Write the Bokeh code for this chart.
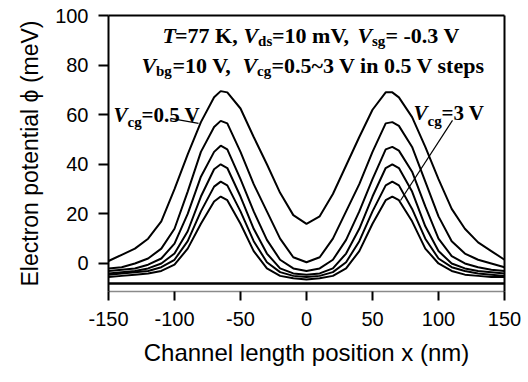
from bokeh.plotting import figure
from bokeh.models import Range1d, LinearAxis, Span, Label, FixedTicker
from bokeh.embed import file_html
from bokeh.resources import INLINE

# Channel position (nm)
x_nm = [-150, -140, -130, -120, -110, -100, -90, -80, -70, -65, -60, -50, -40, -30, -20, -10, 0,
        10, 20, 30, 40, 50, 60, 65, 70, 80, 90, 100, 110, 120, 130, 140, 150]

# Electron potential (meV) for Vcg = 0.5 ... 3.0 V
phi_vcg_05 = [1, 3.5, 6, 10, 17, 30, 44, 57, 67, 69.5, 69, 62.5, 51, 40, 28.5, 19.5, 16,
              19, 28, 39.5, 51, 62, 69, 69, 67, 59, 47, 34, 22, 14, 8.5, 5, 1.5]
phi_vcg_10 = [-2, -1.5, 0, 2, 6, 14, 29, 45, 55, 57.5, 56.5, 45, 32, 21, 10, 2.5, 0.5,
              2.5, 10, 21, 32, 45, 56.5, 57, 55.5, 47, 33, 19, 9, 4, 1.5, 0, -1.5]
phi_vcg_15 = [-3, -2.5, -2, -0.5, 2, 8, 20, 35, 45, 47.5, 46, 34, 21, 9.5, 1.5, -2, -3,
              -2, 1.5, 9.5, 21, 34, 46, 47, 45.5, 37, 23, 10, 3, 0, -1.5, -2.5, -3]
phi_vcg_20 = [-4, -3.5, -3, -2, 0, 4, 13, 27, 38, 40, 38.5, 27, 14, 4, -2, -4, -4.5,
              -4, -2, 4, 14, 27, 38.5, 40, 38.5, 29, 15, 5, 0, -2, -3, -3.5, -4]
phi_vcg_25 = [-4.5, -4, -3.5, -3, -1.5, 1.5, 9, 21, 31, 33, 31.5, 21, 9, 0.5, -3.5, -5, -5.5,
              -5, -3.5, 0.5, 9, 21, 31.5, 33, 31.5, 22, 10, 2, -1.5, -3, -4, -4.5, -5]
phi_vcg_30 = [-5.5, -5, -4.5, -4, -3, -0.5, 6, 16, 25, 27, 25.5, 16, 5, -2, -5, -6, -6.5,
              -6, -5, -2, 5, 16, 25.5, 27, 25.5, 17, 6, 0, -3, -4.5, -5, -5.5, -5.5]

series = [phi_vcg_05, phi_vcg_10, phi_vcg_15, phi_vcg_20, phi_vcg_25, phi_vcg_30]

x_ticks = [-150, -100, -50, 0, 50, 100, 150]
x_tick_labels = {-150: "-150", -100: "-100", -50: "-50", 0: "0", 50: "50", 100: "100", 150: "150"}
y_ticks = [0, 20, 40, 60, 80, 100]

SANS = "Liberation Sans"
SERIF = "Liberation Serif"

p = figure(width=524, height=378, title=None, output_backend="svg", toolbar_location=None,
           x_range=Range1d(-150, 150), y_range=Range1d(-11.3, 100),
           min_border_left=108, min_border_right=20, min_border_top=15, min_border_bottom=87)
p.outline_line_color = None
p.grid.visible = False
p.background_fill_color = "white"
p.border_fill_color = "white"

for s in series:
    p.line(x_nm, s, line_color="black", line_width=2)

# inner bottom frame line
p.add_layout(Span(location=-8.06, dimension="width", line_color="black", line_width=2.5))

# axes
xa = p.xaxis[0]
xa.ticker = FixedTicker(ticks=x_ticks)
xa.major_label_overrides = x_tick_labels
xa.axis_line_color = "#8a8a8a"
xa.axis_line_width = 1.5
xa.major_tick_out = 9
xa.major_tick_in = 0
xa.major_tick_line_width = 2
xa.minor_tick_line_color = None
xa.major_label_text_font = SANS
xa.major_label_text_font_size = "20px"
xa.major_label_text_color = "black"
xa.major_label_standoff = 11
xa.axis_label = "Channel length position x (nm)"
xa.axis_label_text_font = SANS
xa.axis_label_text_font_size = "24px"
xa.axis_label_text_font_style = "normal"
xa.axis_label_text_color = "black"
xa.axis_label_standoff = 10

ya = p.yaxis[0]
ya.ticker = FixedTicker(ticks=y_ticks)
ya.axis_line_width = 2
ya.axis_line_color = "black"
ya.major_tick_out = 10
ya.major_tick_in = 0
ya.major_tick_line_width = 2
ya.minor_tick_line_color = None
ya.major_label_text_font = SANS
ya.major_label_text_font_size = "20px"
ya.major_label_text_color = "black"
ya.major_label_standoff = 10
ya.axis_label = "Electron potential \u03d5 (meV)"
ya.axis_label_text_font = SANS
ya.axis_label_text_font_size = "23px"
ya.axis_label_text_font_style = "normal"
ya.axis_label_text_color = "black"
ya.axis_label_standoff = 9

for side in ("above", "right"):
    ax = LinearAxis(axis_line_width=2, axis_line_color="black",
                    ticker=FixedTicker(ticks=[]),
                    major_tick_line_color=None, minor_tick_line_color=None)
    p.add_layout(ax, side)

# annotation text pieces: (x, y, text, size, style)
pieces = [
    (-109.1, 91.9, "T", "22px", "bold italic"),
    (-99.6, 91.9, "=77 K, ", "22px", "bold"),
    (-47.7, 91.9, "V", "22px", "bold italic"),
    (-36.7, 89.9, "ds", "15px", "bold"),
    (-26.1, 91.9, "=10 mV, ", "22px", "bold"),
    (38.6, 91.9, "V", "22px", "bold italic"),
    (49.6, 89.7, "sg", "15px", "bold"),
    (59.8, 91.9, "= -0.3 V", "22px", "bold"),
    (-125.0, 79.8, "V", "22px", "bold italic"),
    (-114.0, 77.8, "bg", "15px", "bold"),
    (-101.5, 79.8, "=10 V, ", "22px", "bold"),
    (-48.5, 79.8, "V", "22px", "bold italic"),
    (-37.5, 77.8, "cg", "15px", "bold"),
    (-26.5, 79.8, "=0.5~3 V in 0.5 V steps", "22px", "bold"),
    (-146.2, 59.7, "V", "21px", "bold italic"),
    (-135.6, 56.9, "cg", "15px", "bold"),
    (-125.0, 59.7, "=0.5 V", "21px", "bold"),
    (81.1, 60.5, "V", "21px", "bold italic"),
    (91.7, 57.3, "cg", "15px", "bold"),
    (102.3, 60.5, "=3 V", "21px", "bold"),
]
for (lx, ly, t, fs, st) in pieces:
    p.add_layout(Label(x=lx, y=ly, text=t, text_font=SERIF, text_font_size=fs,
                       text_font_style=st, text_color="black",
                       text_baseline="alphabetic", text_align="left"))

# leader lines
p.line([-103.0, -81.8], [58.5, 56.5], line_color="black", line_width=1.2)
p.line([110.6, 71.2], [57.7, 25.4], line_color="black", line_width=1.2)

open("out.html", "w").write(file_html(p, INLINE))
